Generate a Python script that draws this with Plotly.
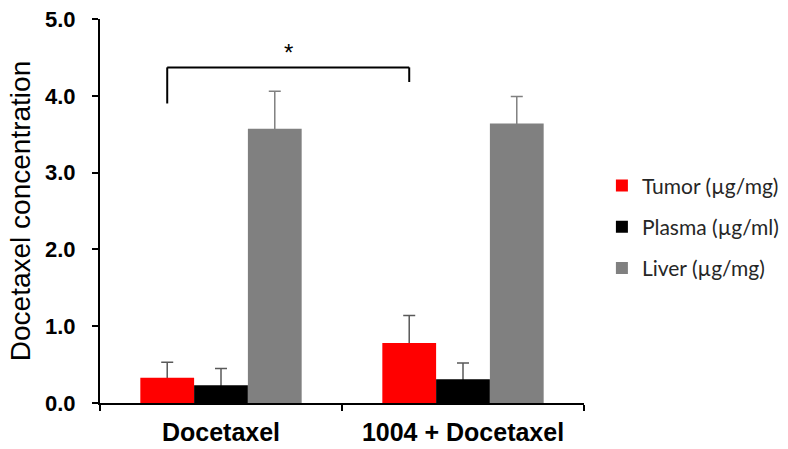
import plotly.graph_objects as go

# Treatment groups and measured docetaxel levels (mean, + error)
groups = ["Docetaxel", "1004 + Docetaxel"]
series_names = ["Tumor (µg/mg)", "Plasma (µg/ml)", "Liver (µg/mg)"]
tumor = [0.33, 0.78]
tumor_err = [0.20, 0.36]
plasma = [0.23, 0.31]
plasma_err = [0.22, 0.21]
liver = [3.57, 3.64]
liver_err = [0.49, 0.35]
y_ticks = [0, 1, 2, 3, 4, 5]
y_tick_text = ["0.0", "1.0", "2.0", "3.0", "4.0", "5.0"]

bar_colors = ["#ff0000", "#000000", "#808080"]
err_colors = ["#595959", "#595959", "#808080"]
values = [tumor, plasma, liver]
errors = [tumor_err, plasma_err, liver_err]

BARGAP = 1 / 3

fig = go.Figure()

# Error bars first (on transparent bars) so the visible bars hide the lower cap
for i, (vals, errs) in enumerate(zip(values, errors)):
    fig.add_trace(go.Bar(
        x=groups, y=vals, offsetgroup=str(i), showlegend=False, hoverinfo="skip",
        marker=dict(color="rgba(0,0,0,0)", line=dict(width=0)),
        error_y=dict(type="data", array=errs, symmetric=False,
                     arrayminus=[0.03] * len(errs), color=err_colors[i],
                     thickness=1.5, width=6),
    ))

for i, (name, vals) in enumerate(zip(series_names, values)):
    fig.add_trace(go.Bar(
        x=groups, y=vals, name=name, legendgroup=name, offsetgroup=str(i),
        marker=dict(color=bar_colors[i], line=dict(width=0)),
    ))

# Significance bracket between the two tumor bars
bar_w = (1 - BARGAP) / len(series_names)
x_left = 0 - bar_w
x_right = 1 - bar_w
y_top = 4.37
fig.add_shape(type="line", xref="x", yref="y", x0=x_left, x1=x_left, y0=3.90, y1=y_top,
              line=dict(color="black", width=2))
fig.add_shape(type="line", xref="x", yref="y", x0=x_left, x1=x_right, y0=y_top, y1=y_top,
              line=dict(color="black", width=2))
fig.add_shape(type="line", xref="x", yref="y", x0=x_right, x1=x_right, y0=4.18, y1=y_top,
              line=dict(color="black", width=2))
fig.add_annotation(x=(x_left + x_right) / 2, y=4.57, xref="x", yref="y", text="*",
                   showarrow=False, font=dict(family="Arial", size=24, color="black"))

fig.update_layout(
    width=788, height=449,
    margin=dict(l=100, r=204, t=19, b=45.5, autoexpand=False),
    paper_bgcolor="white", plot_bgcolor="white",
    barmode="group", bargap=BARGAP, bargroupgap=0,
    font=dict(family="Arial", color="black"),
    legend=dict(x=1.037, xanchor="left", y=0.619, yanchor="top",
                font=dict(family="Lato", size=21, color="#262626"),
                tracegroupgap=11, bgcolor="rgba(0,0,0,0)",
                itemclick=False),
    showlegend=True,
)
fig.update_xaxes(
    showline=True, linecolor="black", linewidth=2,
    ticks="outside", tickson="boundaries", ticklen=6, tickwidth=2, tickcolor="black",
    tickfont=dict(family="Arial", size=25, color="black", weight="bold"),
    ticklabelstandoff=6, automargin=False,
    showgrid=False, zeroline=False,
)
fig.update_yaxes(
    range=[0, 5], tickvals=y_ticks, ticktext=y_tick_text,
    showline=True, linecolor="black", linewidth=2,
    ticks="outside", ticklen=6, tickwidth=2, tickcolor="black",
    tickfont=dict(family="Arial", size=22, color="black", weight="bold"),
    ticklabelstandoff=12, automargin=False,
    showgrid=False, zeroline=False,
    title=dict(text="Docetaxel concentration", font=dict(family="Arial", size=28, color="black"),
               standoff=6),
)

fig.write_html("out.html")
